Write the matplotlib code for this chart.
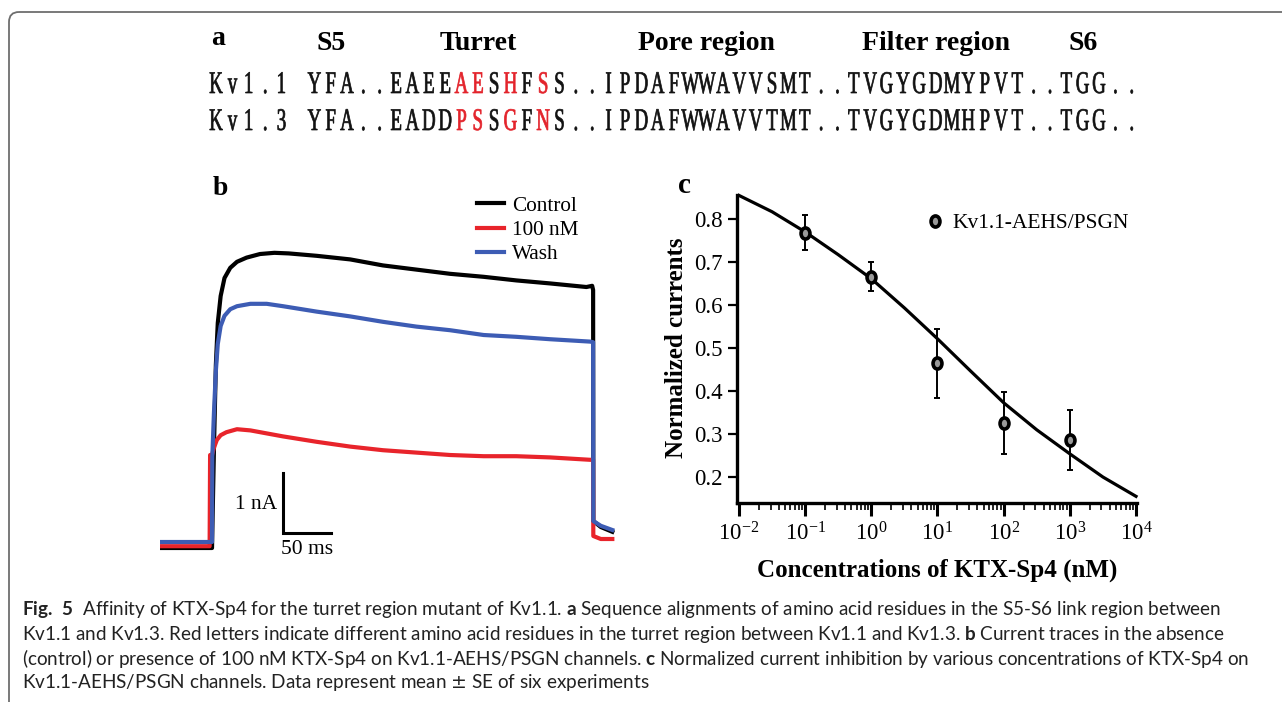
import matplotlib
matplotlib.use("Agg")
import matplotlib.pyplot as plt
import matplotlib.path as mpath
from matplotlib.textpath import TextPath
from matplotlib.font_manager import FontProperties
from matplotlib.patches import PathPatch, FancyBboxPatch
from matplotlib.transforms import Affine2D
from matplotlib.ticker import LogLocator, FormatStrFormatter, NullFormatter

plt.rcParams['font.family'] = ['Liberation Serif', 'DejaVu Serif']
plt.rcParams['mathtext.fontset'] = 'stix'
plt.rcParams['mathtext.bf'] = 'Lato:bold'

# ---- panel a: sequence alignment ----
headers = ['S5', 'Turret', 'Pore region', 'Filter region', 'S6']
seq_rows = ['Kv1.1 YFA..EAEEAESHFSS..IPDAFWWAVVSMT..TVGYGDMYPVT..TGG..',
            'Kv1.3 YFA..EADDPSSGFNS..IPDAFWWAVVTMT..TVGYGDMHPVT..TGG..']
red_idx = [15, 16, 18, 20]

# ---- panel b: current traces (time ms, current nA) ----
t_ctrl = [-52, 0, 2, 4, 6, 9, 13, 19, 26, 36, 50, 65, 80, 109, 144, 178, 213,
          248, 283, 317, 352, 390, 396, 397, 397.2, 405, 417]
i_ctrl = [-0.05, -0.05, 1.6, 3.0, 3.7, 4.15, 4.45, 4.62, 4.72, 4.79, 4.85, 4.87,
          4.86, 4.82, 4.76, 4.66, 4.59, 4.52, 4.47, 4.41, 4.36, 4.30, 4.32, 4.25,
          0.40, 0.30, 0.22]
t_100nm = [-52, -2.5, -2, -1, 0, 2, 5, 9, 15, 26, 40, 57, 74, 109, 144, 178, 213,
           248, 283, 317, 352, 394, 397, 397.2, 405, 417]
i_100nm = [-0.02, -0.02, 1.5, 1.45, 1.5, 1.62, 1.75, 1.83, 1.88, 1.93, 1.91, 1.86,
           1.81, 1.72, 1.64, 1.58, 1.54, 1.50, 1.48, 1.48, 1.46, 1.42, 1.42, 0.15,
           0.10, 0.10]
t_wash = [-52, 0, 0.3, 2, 4, 6, 9, 13, 19, 26, 40, 57, 74, 109, 144, 178, 213,
          248, 283, 317, 352, 394, 397, 397.2, 405, 417]
i_wash = [0.05, 0.05, 1.47, 2.2, 2.9, 3.35, 3.65, 3.82, 3.93, 3.98, 4.02, 4.02,
          3.98, 3.89, 3.81, 3.72, 3.64, 3.58, 3.50, 3.47, 3.43, 3.39, 3.38, 0.40,
          0.32, 0.25]
bar_ms, bar_na = 50, 1

# ---- panel c: dose response ----
conc = [0.1, 1, 10, 100, 1000]
norm_mean = [0.769, 0.667, 0.465, 0.326, 0.287]
norm_se = [0.041, 0.033, 0.081, 0.072, 0.070]
curve_x = [0.01, 0.0316, 0.1, 0.316, 1, 3.16, 10, 31.6, 100, 316, 1000, 3162, 10000]
curve_y = [0.856, 0.818, 0.771, 0.718, 0.662, 0.594, 0.522, 0.447, 0.373, 0.310,
           0.254, 0.200, 0.155]

caption = [
    r"$\mathbf{Fig.\ 5}$  Affinity of KTX-Sp4 for the turret region mutant of Kv1.1. $\mathbf{a}$ Sequence alignments of amino acid residues in the S5-S6 link region between",
    r"Kv1.1 and Kv1.3. Red letters indicate different amino acid residues in the turret region between Kv1.1 and Kv1.3. $\mathbf{b}$ Current traces in the absence",
    r"(control) or presence of 100 nM KTX-Sp4 on Kv1.1-AEHS/PSGN channels. $\mathbf{c}$ Normalized current inhibition by various concentrations of KTX-Sp4 on",
    r"Kv1.1-AEHS/PSGN channels. Data represent mean $\pm$ SE of six experiments",
]

W, H = 1282, 702
fig = plt.figure(figsize=(W / 100, H / 100), dpi=100)

# background axes in pixel coordinates (y down)
bg = fig.add_axes([0, 0, 1, 1])
bg.set_xlim(0, W)
bg.set_ylim(H, 0)
bg.axis('off')
bg.add_patch(FancyBboxPatch((9, 12), 1400, 900, boxstyle='round,pad=0,rounding_size=10',
                            fc='none', ec='#6e6e6e', lw=1.3))

# condensed serif glyphs for the sequences
cell, x0, sx = 16.35, 208, 0.6
prop = FontProperties(family='Liberation Serif')
for row, base in zip(seq_rows, [93, 130]):
    for i, ch in enumerate(row):
        if ch == ' ':
            continue
        tp = TextPath((0, 0), ch, size=31.5, prop=prop)
        ext = tp.get_extents()
        dx = x0 + i * cell + (cell - ext.width * sx) / 2 - ext.x0 * sx
        path = Affine2D().scale(sx, -1).translate(dx, base).transform_path(tp)
        col = '#e3232b' if i in red_idx else '#111111'
        bg.add_patch(PathPatch(path, fc=col, ec=col, lw=0.5))

# headers centred over the sequence segments
row0 = seq_rows[0]
pos = 6
for name, seg in zip(headers, row0[6:].split('..')):
    start = row0.find(seg, pos)
    center = x0 + (start + len(seg) / 2) * cell
    bg.text(center, 50, name, ha='center', va='baseline', fontsize=20, fontweight='bold')
    pos = start + len(seg)

bg.text(211, 45, 'a', fontsize=20, fontweight='bold', va='baseline')
bg.text(213, 195, 'b', fontsize=20, fontweight='bold', va='baseline')
bg.text(678, 193, 'c', fontsize=21, fontweight='bold', va='baseline')

for k, line in enumerate(caption):
    bg.text(22, 610 + 24.3 * k, line, fontsize=13.6, family='Lato',
            math_fontfamily='custom', va='center', ha='left', color='#222222')

# ---- panel b ----
axb = fig.add_axes([150 / W, (H - 560) / H, 470 / W, 370 / H])
axb.plot(t_ctrl, i_ctrl, color='black', lw=3, label='Control')
axb.plot(t_100nm, i_100nm, color='#e8242b', lw=3, label='100 nM')
axb.plot(t_wash, i_wash, color='#3d5cb4', lw=3, label='Wash')
axb.set_xlim(-64.6, 425)
axb.set_ylim(-0.25, 5.917)
axb.axis('off')
bx, by = 74, 0.2
axb.plot([bx, bx, bx + bar_ms], [by + bar_na, by, by], color='black', lw=2.2,
         solid_joinstyle='miter')
axb.text(bx - 6.5, by + 0.47, f'{bar_na} nA', ha='right', va='center', fontsize=15.5)
axb.text(bx + bar_ms / 2, by - 0.12, f'{bar_ms} ms', ha='center', va='top', fontsize=15.5)
axb.legend(loc='upper left', bbox_to_anchor=(477 / W, 1 - 196 / H),
           bbox_transform=fig.transFigure, frameon=False, fontsize=15.3,
           handlelength=1.25, handletextpad=0.4, labelspacing=0.2,
           borderpad=0, borderaxespad=0)

# ---- panel c ----
oval = mpath.Path.unit_circle().transformed(Affine2D().scale(0.8, 1))
axc = fig.add_axes([737 / W, (H - 503) / H, 400 / W, 308 / H])
axc.set_xscale('log')
axc.plot(curve_x, curve_y, color='black', lw=2.3, clip_on=False)
axc.errorbar(conc, norm_mean, yerr=norm_se, fmt='none', ecolor='black',
             elinewidth=1.4, capsize=2, capthick=1.4)
axc.plot(conc, norm_mean, ls='none', marker=oval, ms=8, mfc='#9a9a9a', mec='black',
         mew=2.6, label='Kv1.1-AEHS/PSGN')
axc.set_xlim(10 ** -2.03, 10 ** 4.015)
axc.set_ylim(0.1395, 0.857)
for s in ['top', 'right']:
    axc.spines[s].set_visible(False)
for s in ['left', 'bottom']:
    axc.spines[s].set_linewidth(2.4)
axc.set_yticks([0.2, 0.3, 0.4, 0.5, 0.6, 0.7, 0.8])
axc.yaxis.set_major_formatter(FormatStrFormatter('%.1f'))
axc.set_xticks([1e-2, 1e-1, 1, 1e1, 1e2, 1e3, 1e4])
axc.xaxis.set_minor_locator(LogLocator(base=10, subs=range(2, 10), numticks=20))
axc.xaxis.set_minor_formatter(NullFormatter())
axc.tick_params(axis='y', length=6.5, width=1.6, labelsize=16.5, pad=3.5)
axc.tick_params(axis='x', which='major', length=9, width=2.2, labelsize=16.5, pad=5)
axc.tick_params(axis='x', which='minor', length=5, width=1.2)
axc.set_ylabel('Normalized currents', fontsize=18, fontweight='bold')
axc.yaxis.set_label_coords(-0.122, 0.503)
axc.set_xlabel('Concentrations of KTX-Sp4 (nM)', fontsize=18, fontweight='bold')
axc.xaxis.set_label_coords(0.5, -0.179)
axc.legend(loc='upper left', bbox_to_anchor=(927 / W, 1 - 213 / H),
           bbox_transform=fig.transFigure, frameon=False, fontsize=15.5,
           handlelength=0.7, handletextpad=0.5, borderpad=0, borderaxespad=0)

fig.savefig('out.png', dpi=100)
